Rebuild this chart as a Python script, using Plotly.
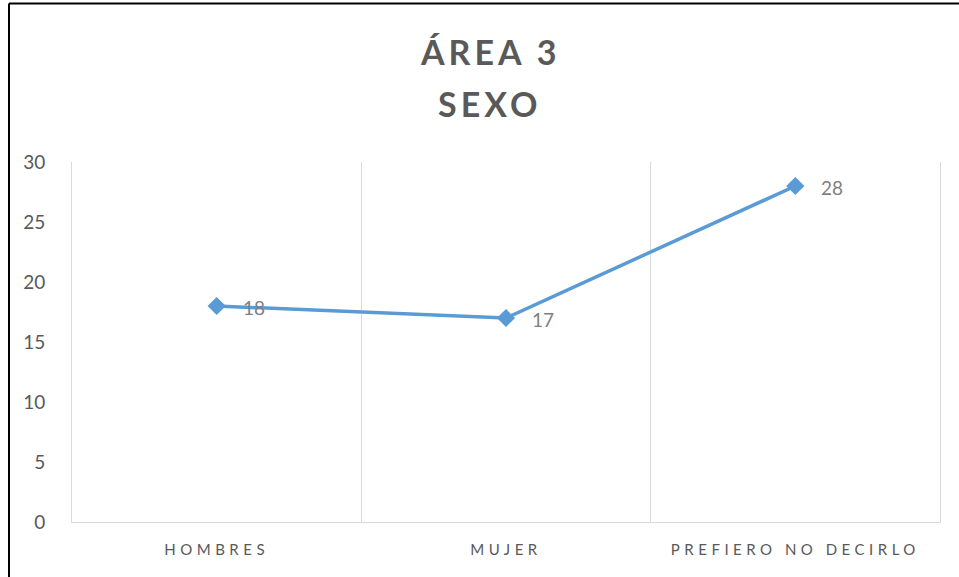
import plotly.graph_objects as go

categories = ["HOMBRES", "MUJER", "PREFIERO NO DECIRLO"]
values = [18, 17, 28]
title_lines = ["ÁREA 3", "SEXO"]
y_ticks = [0, 5, 10, 15, 20, 25, 30]

W, H = 959, 577
ML, MR, MT, MB = 72, 19, 162, 55
PW, PH = W - ML - MR, H - MT - MB

FONT = "Lato, 'Open Sans', sans-serif"
LINE_BLUE = "#5B9BD5"
AXIS_GRAY = "#595959"
GRID = "#D9D9D9"

fig = go.Figure()
fig.add_trace(go.Scatter(
    x=categories, y=values, mode="lines+markers",
    line=dict(color=LINE_BLUE, width=3.5),
    marker=dict(symbol="diamond", size=14, color=LINE_BLUE),
    hoverinfo="skip", showlegend=False,
))

for c, v in zip(categories, values):
    fig.add_annotation(x=c, y=v, text=str(v), showarrow=False,
                       xanchor="left", yanchor="middle", xshift=24, yshift=-1,
                       font=dict(family=FONT, size=19, color="#7F7F7F"))

def px_to_paper_x(px):
    return (px - ML) / PW

def px_to_paper_y(py):
    return 1 - (py - MT) / PH

title_y_px = [52, 104]
for t, ty in zip(title_lines, title_y_px):
    fig.add_annotation(x=px_to_paper_x(490), y=px_to_paper_y(ty), xref="paper", yref="paper",
                       text="<b>" + t + "</b>", showarrow=False,
                       xanchor="center", yanchor="middle",
                       font=dict(family=FONT, size=34, color=AXIS_GRAY))

# outer black border (left and top edges)
bx = px_to_paper_x(9)
by = px_to_paper_y(3.5)
fig.add_shape(type="line", xref="paper", yref="paper", x0=bx, x1=bx,
              y0=px_to_paper_y(H + 5), y1=by, line=dict(color="#000000", width=2))
fig.add_shape(type="line", xref="paper", yref="paper", x0=bx, x1=px_to_paper_x(W + 5),
              y0=by, y1=by, line=dict(color="#000000", width=2))

fig.update_layout(
    width=W, height=H,
    margin=dict(l=ML, r=MR, t=MT, b=MB, autoexpand=False),
    paper_bgcolor="white", plot_bgcolor="white",
    font=dict(family=FONT, color=AXIS_GRAY),
)
fig.update_xaxes(
    type="category", tickson="boundaries", range=[-0.5, 2.5],
    showgrid=True, gridcolor=GRID, gridwidth=1,
    showline=True, linecolor=GRID, linewidth=1,
    ticks="", tickfont=dict(family=FONT, size=15, color=AXIS_GRAY),
    ticklabelstandoff=14, zeroline=False,
)
fig.update_yaxes(
    range=[0, 30], tickvals=y_ticks, showgrid=False, zeroline=False,
    showline=True, mirror=True, linecolor=GRID, linewidth=1,
    ticks="", ticklabelstandoff=22,
    tickfont=dict(family=FONT, size=19, color=AXIS_GRAY),
)

post = """
document.body.style.margin = '0';
document.body.style.padding = '0';
var gd = document.getElementById('{plot_id}');
function ls(){
  gd.querySelectorAll('.xtick text').forEach(function(t){ t.style.letterSpacing='4.5px'; });
  gd.querySelectorAll('.annotation-text').forEach(function(t){
    if (t.textContent === 'ÁREA 3' || t.textContent === 'SEXO') { t.style.letterSpacing='4px'; }
  });
}
ls();
gd.on('plotly_afterplot', ls);
setTimeout(ls, 50);
"""

fig.write_html("out.html", post_script=post, config={"displayModeBar": False})
